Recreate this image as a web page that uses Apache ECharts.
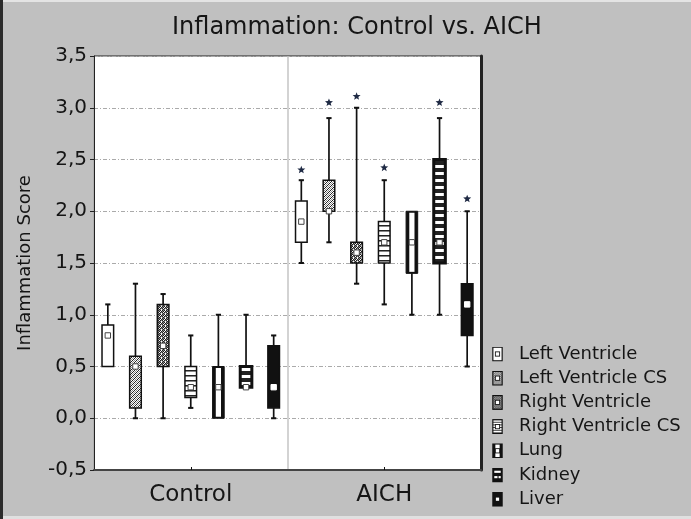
<!DOCTYPE html>
<html><head><meta charset="utf-8">
<script src="https://cdn.jsdelivr.net/npm/echarts@6/dist/echarts.min.js"></script>
<style>html,body{margin:0;padding:0;background:#c0c0c0;}#main{width:691px;height:519px;}</style>
</head><body><div id="main"></div>
<script>
// ---------------- data ----------------
const categories = ['Control', 'AICH'];
const seriesNames = ['Left Ventricle', 'Left Ventricle CS', 'Right Ventricle', 'Right Ventricle CS', 'Lung', 'Kidney', 'Liver'];
const yTicks = [-0.5, 0, 0.5, 1, 1.5, 2, 2.5, 3, 3.5];
// per category: [min, q1, median, q3, max]
const leftVentricle    = [[0.5, 0.5, 0.8, 0.9, 1.1], [1.5, 1.7, 1.9, 2.1, 2.3]];
const leftVentricleCS  = [[0.0, 0.1, 0.5, 0.6, 1.3], [1.7, 2.0, 2.0, 2.3, 2.9]];
const rightVentricle   = [[0.0, 0.5, 0.7, 1.1, 1.2], [1.3, 1.5, 1.6, 1.7, 3.0]];
const rightVentricleCS = [[0.1, 0.2, 0.3, 0.5, 0.8], [1.1, 1.5, 1.7, 1.9, 2.3]];
const lung             = [[0.0, 0.0, 0.3, 0.5, 1.0], [1.0, 1.4, 1.7, 2.0, 2.0]];
const kidney           = [[0.3, 0.3, 0.3, 0.5, 1.0], [1.0, 1.5, 1.7, 2.5, 2.9]];
const liver            = [[0.0, 0.1, 0.3, 0.7, 0.8], [0.5, 0.8, 1.1, 1.3, 2.0]];
// significance asterisks: y position per category (null = none)
const starsLV   = [null, 2.40];
const starsLVCS = [null, 3.05];
const starsRV   = [null, 3.11];
const starsRVCS = [null, 2.42];
const starsLung = [null, null];
const starsKid  = [null, 3.05];
const starsLiv  = [null, 2.12];

const allBoxes = [leftVentricle, leftVentricleCS, rightVentricle, rightVentricleCS, lung, kidney, liver];
const allStars = [starsLV, starsLVCS, starsRV, starsRVCS, starsLung, starsKid, starsLiv];

// ---------------- patterns ----------------
function makePattern(rows) {
  const c = document.createElement('canvas');
  c.width = rows[0].length; c.height = rows.length;
  const ctx = c.getContext('2d');
  rows.forEach((r, y) => { for (let x = 0; x < r.length; x++) { ctx.fillStyle = r[x] === 'X' ? '#222' : (r[x] === 'o' ? '#888' : '#fff'); ctx.fillRect(x, y, 1, 1); } });
  return { image: c, repeat: 'repeat' };
}
const patLVCS = makePattern(['X.o.', '.o.X', 'o.X.', '.X.o']);
const patRV   = makePattern(['XoX.', 'o.oX', 'X.Xo', '.XoX']);
const patRVCS = makePattern(['X', 'o', '.', '.', '.']);
const patKid  = makePattern(['X', 'X', 'X', 'X', '.', '.', '.']);

// ---------------- legend icons ----------------
function svgIcon(body) {
  return 'image://data:image/svg+xml;utf8,' + encodeURIComponent('<svg xmlns="http://www.w3.org/2000/svg" width="20" height="28" viewBox="0 0 10 14">' + body + '</svg>');
}
const sq = '<rect x="3" y="5" width="4" height="4" fill="#fff" stroke="#111" stroke-width="0.8"/>';
const frame = (fill) => '<rect x="0.6" y="0.6" width="8.8" height="12.8" fill="' + fill + '" stroke="#111" stroke-width="1.2"/>';
const dots = (id, a, b) => '<defs><pattern id="' + id + '" width="2" height="2" patternUnits="userSpaceOnUse"><rect width="2" height="2" fill="' + a + '"/><rect width="1" height="1" fill="' + b + '"/><rect x="1" y="1" width="1" height="1" fill="' + b + '"/></pattern></defs>';
const legendIcons = [
  svgIcon(frame('#fff') + sq),
  svgIcon(dots('a', '#ddd', '#555') + frame('url(#a)') + sq),
  svgIcon(dots('b', '#bbb', '#333') + frame('url(#b)') + sq),
  svgIcon('<defs><pattern id="c" width="2" height="2.5" patternUnits="userSpaceOnUse"><rect width="2" height="2.5" fill="#fff"/><rect width="2" height="0.8" fill="#222"/></pattern></defs>' + frame('url(#c)') + sq),
  svgIcon('<rect x="0" y="0" width="10" height="14" fill="#111"/><rect x="3" y="1.2" width="4" height="11.6" fill="#fff"/>' + sq),
  svgIcon('<rect x="0" y="0" width="10" height="14" fill="#111"/><rect x="2" y="3" width="6" height="2" fill="#fff"/><rect x="2" y="8" width="3" height="2" fill="#fff"/><rect x="6" y="8" width="2" height="2" fill="#fff"/>'),
  svgIcon('<rect x="0" y="0" width="10" height="14" fill="#111"/><rect x="3.5" y="5.5" width="3" height="3" fill="#fff"/>')
];

// ---------------- rendering ----------------
function boxFill(k, x, y, w, h) {
  const r = { x: x, y: y, width: w, height: h };
  switch (k) {
    case 0: return [{ type: 'rect', shape: r, style: { fill: '#fff', stroke: '#111', lineWidth: 1.5 } }];
    case 1: return [{ type: 'rect', shape: r, style: { fill: patLVCS, stroke: '#111', lineWidth: 1.5 } }];
    case 2: return [{ type: 'rect', shape: r, style: { fill: patRV, stroke: '#111', lineWidth: 1.5 } }];
    case 3: return [{ type: 'rect', shape: r, style: { fill: patRVCS, stroke: '#111', lineWidth: 1.5 } }];
    case 4: return [
      { type: 'rect', shape: r, style: { fill: '#111', stroke: '#111', lineWidth: 1 } },
      { type: 'rect', shape: { x: x + 3.2, y: y + 1.5, width: Math.max(0, w - 6.4), height: Math.max(0, h - 3) }, style: { fill: '#fff' } }];
    case 5: return [{ type: 'rect', shape: r, style: { fill: patKid, stroke: '#111', lineWidth: 3 } }];
    default: return [{ type: 'rect', shape: r, style: { fill: '#111', stroke: '#111', lineWidth: 1.5 } }];
  }
}
function starPoints(cx, cy, R, r) {
  const pts = [];
  for (let i = 0; i < 10; i++) {
    const a = -Math.PI / 2 + i * Math.PI / 5, rad = i % 2 ? r : R;
    pts.push([cx + rad * Math.cos(a), cy + rad * Math.sin(a)]);
  }
  return pts;
}
function makeRender(k) {
  return function (params, api) {
    const cat = api.value(0);
    const band = api.size([1, 0])[0];
    const slot = band / seriesNames.length;
    const cx = api.coord([cat, 0])[0] + (k - (seriesNames.length - 1) / 2) * slot;
    const Y = v => api.coord([cat, v])[1];
    const mn = api.value(1), q1 = api.value(2), md = api.value(3), q3 = api.value(4), mx = api.value(5);
    const bw = slot * 0.42, cap = 2.6;
    const ch = [];
    const ws = { stroke: '#111', lineWidth: 1.7 };
    if (mx > q3) {
      ch.push({ type: 'line', shape: { x1: cx, y1: Y(mx), x2: cx, y2: Y(q3) }, style: ws });
      ch.push({ type: 'line', shape: { x1: cx - cap, y1: Y(mx), x2: cx + cap, y2: Y(mx) }, style: { stroke: '#111', lineWidth: 2 } });
    }
    if (mn < q1) {
      ch.push({ type: 'line', shape: { x1: cx, y1: Y(q1), x2: cx, y2: Y(mn) }, style: ws });
      ch.push({ type: 'line', shape: { x1: cx - cap, y1: Y(mn), x2: cx + cap, y2: Y(mn) }, style: { stroke: '#111', lineWidth: 2 } });
    }
    const yt = Y(q3), yb = Y(q1);
    boxFill(k, cx - bw / 2, yt, bw, yb - yt).forEach(e => ch.push(e));
    ch.push({ type: 'rect', shape: { x: cx - 2.7, y: Y(md) - 2.7, width: 5.4, height: 5.4 },
      style: { fill: '#fff', stroke: k === 6 ? '#fff' : '#444', lineWidth: 1 } });
    const s = allStars[k][params.dataIndex];
    if (s !== null && s !== undefined) {
      ch.push({ type: 'polygon', shape: { points: starPoints(cx, Y(s), 4.2, 1.8) }, style: { fill: '#1f2a44' } });
    }
    return { type: 'group', children: ch };
  };
}

const series = seriesNames.map((name, k) => ({
  name: name,
  type: 'custom',
  xAxisIndex: 0, yAxisIndex: 0,
  renderItem: makeRender(k),
  encode: { x: 0, y: [1, 2, 3, 4, 5] },
  data: categories.map((c, i) => [i].concat(allBoxes[k][i])),
  z: 5
}));

const fmt = v => v.toFixed(1).replace('.', ',');
const chart = echarts.init(document.getElementById('main'), null, { renderer: 'canvas' });
chart.setOption({
  backgroundColor: '#c0c0c0',
  animation: false,
  textStyle: { fontFamily: 'DejaVu Sans' },
  title: {
    text: 'Inflammation: Control vs. AICH',
    left: 172, top: 16, padding: 0,
    textStyle: { fontFamily: 'DejaVu Sans', fontSize: 24, fontWeight: 'normal', color: '#151515' }
  },
  grid: { left: 94, right: 210, top: 56, bottom: 49, show: true, backgroundColor: '#fff', borderColor: '#222', borderWidth: 1 },
  legend: {
    orient: 'vertical', left: 487, top: 340, itemWidth: 11, itemHeight: 15, itemGap: 6.2,
    selectedMode: false,
    data: seriesNames.map((n, i) => ({ name: n, icon: legendIcons[i] })),
    textStyle: { fontFamily: 'DejaVu Sans', fontSize: 18, color: '#151515', padding: [0, 0, 0, 11] }
  },
  xAxis: {
    type: 'category', data: categories, boundaryGap: true,
    axisLine: { onZero: false, lineStyle: { color: '#444', width: 2 } },
    axisTick: { show: true, inside: true, length: 3, alignWithLabel: true, lineStyle: { color: '#111' } },
    axisLabel: { fontFamily: 'DejaVu Sans', fontSize: 23, color: '#151515', margin: 14 },
    splitLine: { show: true, lineStyle: { color: '#c4c4c4', width: 1.5 } }
  },
  yAxis: [{
    type: 'value', min: yTicks[0], max: yTicks[yTicks.length - 1], interval: 0.5,
    name: 'Inflammation Score', nameLocation: 'middle', nameGap: 60, nameRotate: 90,
    nameTextStyle: { fontFamily: 'DejaVu Sans', fontSize: 18, color: '#151515' },
    axisLine: { show: true, lineStyle: { color: '#222', width: 1 } },
    axisTick: { show: true, length: 4, lineStyle: { color: '#222' } },
    axisLabel: { formatter: fmt, fontFamily: 'DejaVu Sans', fontSize: 20, color: '#151515', margin: 7 },
    splitLine: { show: true, lineStyle: { color: '#aaa', width: 1, type: [4, 2, 1, 2] } }
  }, {
    type: 'value', position: 'right', min: yTicks[0], max: yTicks[yTicks.length - 1], interval: 0.5,
    axisLine: { show: true, lineStyle: { color: '#222', width: 3 } },
    axisTick: { show: false }, axisLabel: { show: false }, splitLine: { show: false }
  }],
  graphic: [
    { type: 'rect', left: 0, top: 0, shape: { width: 3, height: 519 }, style: { fill: '#2b2b2b' }, z: 100 },
    { type: 'rect', left: 0, top: 0, shape: { width: 691, height: 2 }, style: { fill: '#e4e4e4' }, z: 99 },
    { type: 'rect', left: 0, top: 516, shape: { width: 691, height: 3 }, style: { fill: '#e0e0e0' }, z: 99 }
  ],
  series: series
});
</script></body></html>
